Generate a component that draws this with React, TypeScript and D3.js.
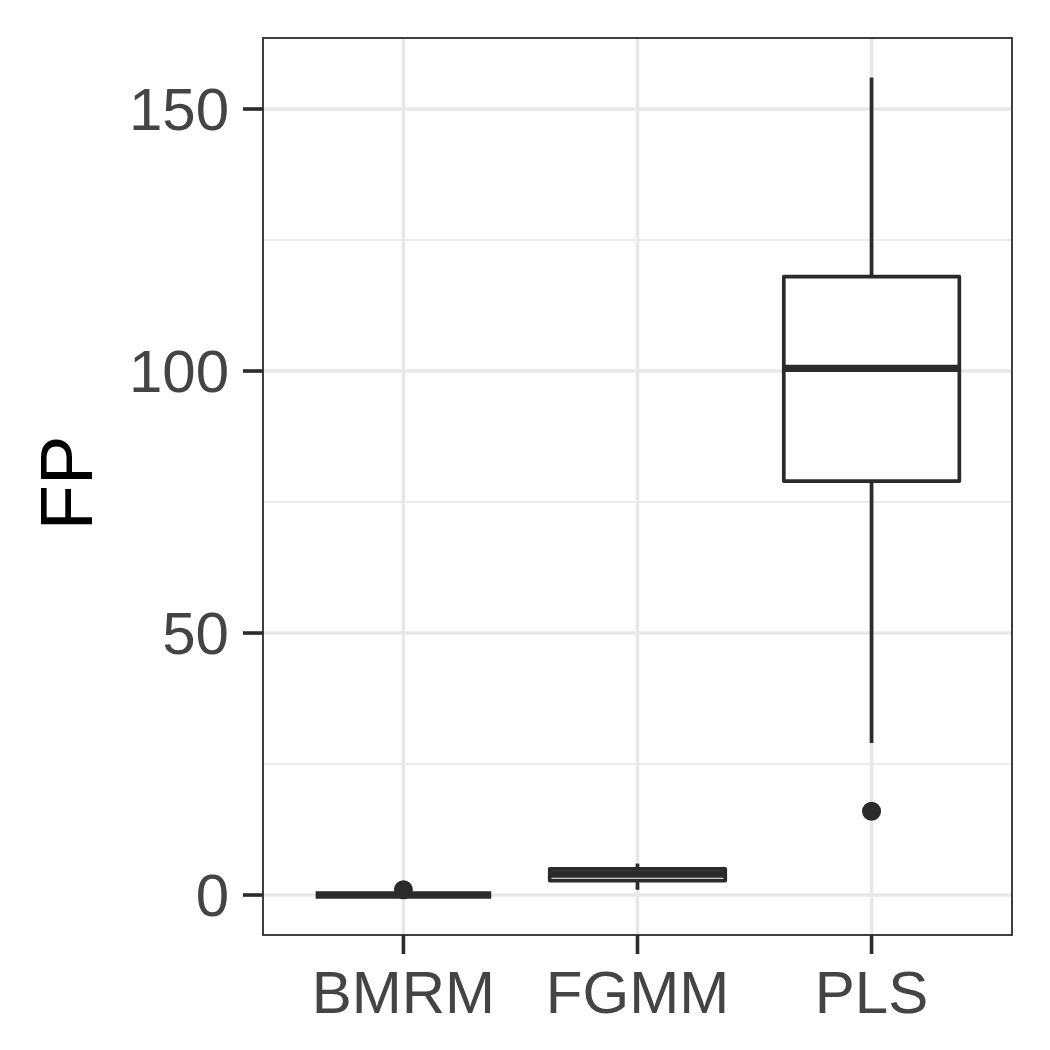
import React from "react";
import * as d3 from "d3";

const categories = ["BMRM", "FGMM", "PLS"];
const lowerWhisker = [0, 1, 29];
const q1 = [0, 2.75, 79];
const medians = [0, 4, 100.5];
const q3 = [0, 5, 118];
const upperWhisker = [0, 6, 156];
const outliers: number[][] = [[1], [], [16]];
const yTicks = [0, 50, 100, 150];
const yMinor = [25, 75, 125];

export default function App() {
  const W = 1050, H = 1050;
  const left = 263, right = 1012, top = 38, bottom = 935;
  const y = d3.scaleLinear().domain([-7.63, 163.55]).range([bottom, top]);
  const x = d3.scalePoint<string>().domain(categories).range([left, right]).padding(0.6);
  const step = x.step();
  const bw = step * 0.75;
  const stroke = "#2b2b2b";
  const lw = 3.7;
  const font = "'Liberation Sans', Arial, Helvetica, sans-serif";

  return (
    <div style={{ position: "absolute", left: 0, top: 0 }}>
      <svg width={W} height={H} style={{ display: "block", background: "#fff" }}>
        <rect x={0} y={0} width={W} height={H} fill="#fff" />
        {yMinor.map((t) => (
          <line key={"mn" + t} x1={left} x2={right} y1={y(t)} y2={y(t)} stroke="#EBEBEB" strokeWidth={1.8} />
        ))}
        {yTicks.map((t) => (
          <line key={"mj" + t} x1={left} x2={right} y1={y(t)} y2={y(t)} stroke="#E8E8E8" strokeWidth={3.6} />
        ))}
        {categories.map((c) => (
          <line key={"gx" + c} x1={x(c)!} x2={x(c)!} y1={top} y2={bottom} stroke="#E8E8E8" strokeWidth={3.6} />
        ))}
        {categories.map((c, i) => {
          const cx = x(c)!;
          return (
            <g key={"box" + c}>
              <line x1={cx} x2={cx} y1={y(q3[i])} y2={y(upperWhisker[i])} stroke={stroke} strokeWidth={lw} />
              <line x1={cx} x2={cx} y1={y(q1[i])} y2={y(lowerWhisker[i])} stroke={stroke} strokeWidth={lw} />
              <rect
                x={cx - bw / 2}
                y={y(q3[i])}
                width={bw}
                height={Math.max(0, y(q1[i]) - y(q3[i]))}
                fill="#fff"
                stroke={stroke}
                strokeWidth={lw}
                strokeLinejoin="round"
              />
              <line
                x1={cx - bw / 2}
                x2={cx + bw / 2}
                y1={y(medians[i])}
                y2={y(medians[i])}
                stroke={stroke}
                strokeWidth={lw * 2}
                strokeLinecap="butt"
              />
              {outliers[i].map((o, j) => (
                <circle key={j} cx={cx} cy={y(o)} r={9.5} fill={stroke} />
              ))}
            </g>
          );
        })}
        <rect x={left} y={top} width={right - left} height={bottom - top} fill="none" stroke={stroke} strokeWidth={1.8} />
        {yTicks.map((t) => (
          <g key={"yt" + t}>
            <line x1={left - 20} x2={left} y1={y(t)} y2={y(t)} stroke={stroke} strokeWidth={3.6} />
            <text x={229} y={y(t)} dy="0.355em" textAnchor="end" fontFamily={font} fontSize={60} fill="#444444">
              {t}
            </text>
          </g>
        ))}
        {categories.map((c) => (
          <g key={"xt" + c}>
            <line x1={x(c)!} x2={x(c)!} y1={bottom} y2={bottom + 19} stroke={stroke} strokeWidth={3.6} />
            <text x={x(c)!} y={1013} textAnchor="middle" fontFamily={font} fontSize={60} fill="#444444">
              {c}
            </text>
          </g>
        ))}
        <text transform={`translate(92, 483) rotate(-90)`} textAnchor="middle" fontFamily={font} fontSize={74} fill="#000">
          FP
        </text>
      </svg>
    </div>
  );
}
